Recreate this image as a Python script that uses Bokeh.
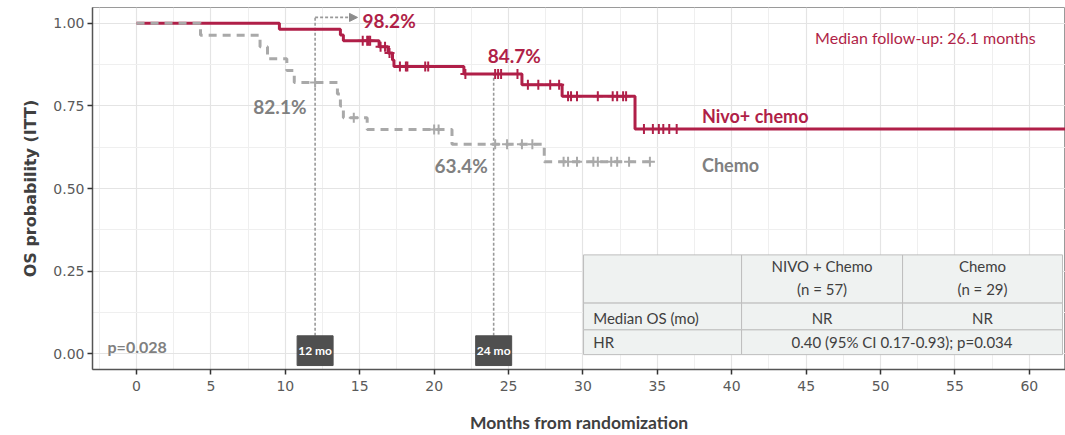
import numpy as np
from bokeh.plotting import figure
from bokeh.models import (Range1d, FixedTicker, NumeralTickFormatter, Arrow,
                          NormalHead, ColumnDataSource)
from bokeh.core.properties import value
from bokeh.embed import file_html
from bokeh.resources import INLINE

# ---- Kaplan-Meier estimates (months, survival probability) ----
nivo_time = [0, 9.6, 13.7, 13.9, 16.3, 16.9, 17.2, 17.3, 22.0, 25.9, 28.6, 33.5]
nivo_surv = [1.0, 0.982, 0.965, 0.947, 0.929, 0.910, 0.889, 0.869, 0.847, 0.814, 0.779, 0.680]
nivo_censor = [15.2, 15.5, 15.6, 15.7, 16.4, 16.7, 17.0, 17.7, 18.1, 18.2, 19.4, 19.6,
               22.1, 24.1, 24.3, 24.5, 25.6, 26.3, 27.0, 27.8, 28.4, 29.0, 29.2, 29.6,
               31.0, 32.0, 32.3, 32.7, 32.9, 34.1, 34.7, 35.1, 35.4, 35.8, 36.3]

chemo_time = [0, 4.3, 8.3, 8.8, 10.1, 10.6, 13.5, 13.7, 13.9, 15.5, 21.2, 27.4]
chemo_surv = [1.0, 0.964, 0.929, 0.893, 0.857, 0.821, 0.786, 0.750, 0.714, 0.679, 0.634, 0.581]
chemo_censor = [12.0, 14.6, 20.0, 20.3, 24.1, 24.9, 25.9, 26.6, 28.7, 29.0, 29.6,
                30.7, 31.0, 31.9, 32.3, 33.1, 34.5]

# landmark estimates
landmark_months = [12, 24]
landmark_labels = ["12 mo", "24 mo"]
nivo_landmark = [0.982, 0.847]
chemo_landmark = [0.821, 0.634]

x_ticks = list(range(0, 61, 5))
y_ticks = [0.0, 0.25, 0.5, 0.75, 1.0]

# summary table
table_col_edges = [30.04, 40.66, 51.48, 62.23]
table_row_edges = [0.299, 0.153, 0.072, -0.003]
table_header = ["NIVO + Chemo\n(n = 57)", "Chemo\n(n = 29)"]
table_row_labels = ["Median OS (mo)", "HR"]
table_median = ["NR", "NR"]
table_hr = "0.40 (95% CI 0.17-0.93); p=0.034"

RED = "#B01F48"
GREY = "#A9A9A9"
GREY_TXT = "#808080"
X_START, X_END = -2.96, 62.43


def surv_at(times, surv, t):
    idx = np.searchsorted(np.asarray(times), np.asarray(t), side="right") - 1
    return list(np.asarray(surv)[idx])


p = figure(width=1065, height=435, output_backend="svg", toolbar_location=None,
           x_range=Range1d(X_START, X_END), y_range=Range1d(-0.048, 1.048),
           min_border_left=92, min_border_right=0, min_border_top=7,
           min_border_bottom=61)
p.background_fill_color = "white"
p.border_fill_color = "white"
p.outline_line_color = "#9A9A9A"
p.outline_line_width = 1

# grid
for g in (p.xgrid, p.ygrid):
    g.grid_line_color = "#E4E4E4"
    g.grid_line_width = 1.2
    g.minor_grid_line_color = "#EFEFEF"
    g.minor_grid_line_width = 1
p.xaxis.ticker = FixedTicker(ticks=x_ticks, minor_ticks=[t + 2.5 for t in range(-5, 61, 5)])
p.yaxis.ticker = FixedTicker(ticks=y_ticks, minor_ticks=[-0.125 + 0.25 * i for i in range(6)])
p.yaxis.formatter = NumeralTickFormatter(format="0.00")

for ax in (p.xaxis, p.yaxis):
    ax.axis_line_color = "#555555"
    ax.axis_line_width = 1.5
    ax.major_tick_line_color = "#333333"
    ax.major_tick_line_width = 1.5
    ax.major_tick_out = 5
    ax.major_tick_in = 0
    ax.minor_tick_line_color = None
    ax.major_label_text_font = "DejaVu Sans"
    ax.major_label_text_font_size = "14px"
    ax.major_label_text_color = "#5A5A5A"
    ax.axis_label_text_font_style = "bold"
    ax.axis_label_text_color = "#404040"

p.xaxis.axis_label = "Months from randomization"
p.xaxis.axis_label_text_font = "Lato"
p.xaxis.axis_label_text_font_size = "17.5px"
p.xaxis.axis_label_standoff = 18
p.xaxis.major_label_standoff = 6

p.yaxis.axis_label = "OS probability (ITT)"
p.yaxis.axis_label_text_font = "DejaVu Sans"
p.yaxis.axis_label_text_font_size = "16px"
p.yaxis.axis_label_standoff = 10
p.yaxis.major_label_standoff = 3

# landmark guides
p.segment(x0=landmark_months, y0=[0.054, 0.054], x1=landmark_months,
          y1=[1.018, nivo_landmark[1]], line_color="#999999", line_width=1.6,
          line_dash="3 2")
p.add_layout(Arrow(end=NormalHead(size=8, fill_color="#8C8C8C", line_color="#8C8C8C"),
                   x_start=landmark_months[0], y_start=1.018, x_end=14.85, y_end=1.018,
                   line_color="#999999", line_width=1.6, line_dash="3 2"))

# nivo + chemo curve
p.step(nivo_time + [X_END], nivo_surv + [nivo_surv[-1]], mode="after",
       line_color=RED, line_width=3)
p.scatter(nivo_censor, surv_at(nivo_time, nivo_surv, nivo_censor), marker="cross",
          size=10, line_color=RED, line_width=2)

# chemo curve
p.step(chemo_time + [chemo_censor[-1]], chemo_surv + [chemo_surv[-1]], mode="after",
       line_color=GREY, line_width=3, line_dash="8 6")
p.scatter(chemo_censor, surv_at(chemo_time, chemo_surv, chemo_censor), marker="cross",
          size=10, line_color=GREY, line_width=2)

# landmark boxes
p.rect(x=landmark_months, y=[0.009, 0.009], width=2.42, height=0.09,
       fill_color="#4F4F4F", line_color="#4F4F4F")
p.text(x=landmark_months, y=[0.009, 0.009], text=landmark_labels, text_color="white",
       text_font=value("Lato"), text_font_style="bold", text_font_size="12px",
       text_align="center", text_baseline="middle")

# percentage labels
pct = lambda v: f"{v * 100:.1f}%"
p.text(x=[15.19, 23.6], y=[1.009, 0.904], text=[pct(v) for v in nivo_landmark],
       text_color=RED, text_font=value("Lato"), text_font_style="bold",
       text_font_size="19px", text_align="left", text_baseline="middle")
p.text(x=[11.42], y=[0.749], text=[pct(chemo_landmark[0])], text_color=GREY_TXT,
       text_font=value("Lato"), text_font_style="bold", text_font_size="19px",
       text_align="right", text_baseline="middle")
p.text(x=[20.03], y=[0.569], text=[pct(chemo_landmark[1])], text_color=GREY_TXT,
       text_font=value("Lato"), text_font_style="bold", text_font_size="19px",
       text_align="left", text_baseline="middle")

# series labels
p.text(x=[38.0], y=[0.72], text=["Nivo+ chemo"], text_color=RED, text_font=value("Lato"),
       text_font_style="bold", text_font_size="18px", text_baseline="middle")
p.text(x=[38.0], y=[0.572], text=["Chemo"], text_color=GREY_TXT, text_font=value("Lato"),
       text_font_style="bold", text_font_size="18px", text_baseline="middle")
p.text(x=[45.6], y=[0.958], text=["Median follow-up: 26.1 months"], text_color=RED,
       text_font=value("Lato"), text_font_size="16px", text_baseline="middle")
p.text(x=[-1.95], y=[0.021], text=["p=0.028"], text_color=GREY_TXT, text_font=value("Lato"),
       text_font_style="bold", text_font_size="16px", text_baseline="middle")

# summary table
c, r = table_col_edges, table_row_edges
cells = ColumnDataSource(dict(
    left=[c[0], c[1], c[2], c[0], c[1], c[2], c[0], c[1]],
    right=[c[1], c[2], c[3], c[1], c[2], c[3], c[1], c[3]],
    top=[r[0]] * 3 + [r[1]] * 3 + [r[2]] * 2,
    bottom=[r[1]] * 3 + [r[2]] * 3 + [r[3]] * 2,
))
p.quad(left="left", right="right", top="top", bottom="bottom", source=cells,
       fill_color="#EFF2F1", line_color="#BDBDBD", line_width=1)
col_mid = [(c[1] + c[2]) / 2, (c[2] + c[3]) / 2]
tkw = dict(text_color="#3F3F3F", text_font=value("Lato"), text_font_size="15px",
           text_baseline="middle", text_line_height=1.25)
p.text(x=col_mid, y=[(r[0] + r[1]) / 2 + 0.004] * 2, text=table_header,
       text_align="center", **tkw)
p.text(x=[c[0] + 0.65] * 2, y=[(r[1] + r[2]) / 2 - 0.004, (r[2] + r[3]) / 2],
       text=table_row_labels, text_align="left", **tkw)
p.text(x=col_mid, y=[(r[1] + r[2]) / 2 - 0.004] * 2, text=table_median,
       text_align="center", **tkw)
p.text(x=[(c[1] + c[3]) / 2], y=[(r[2] + r[3]) / 2], text=[table_hr],
       text_align="center", **tkw)

open("out.html", "w").write(file_html(p, INLINE))
